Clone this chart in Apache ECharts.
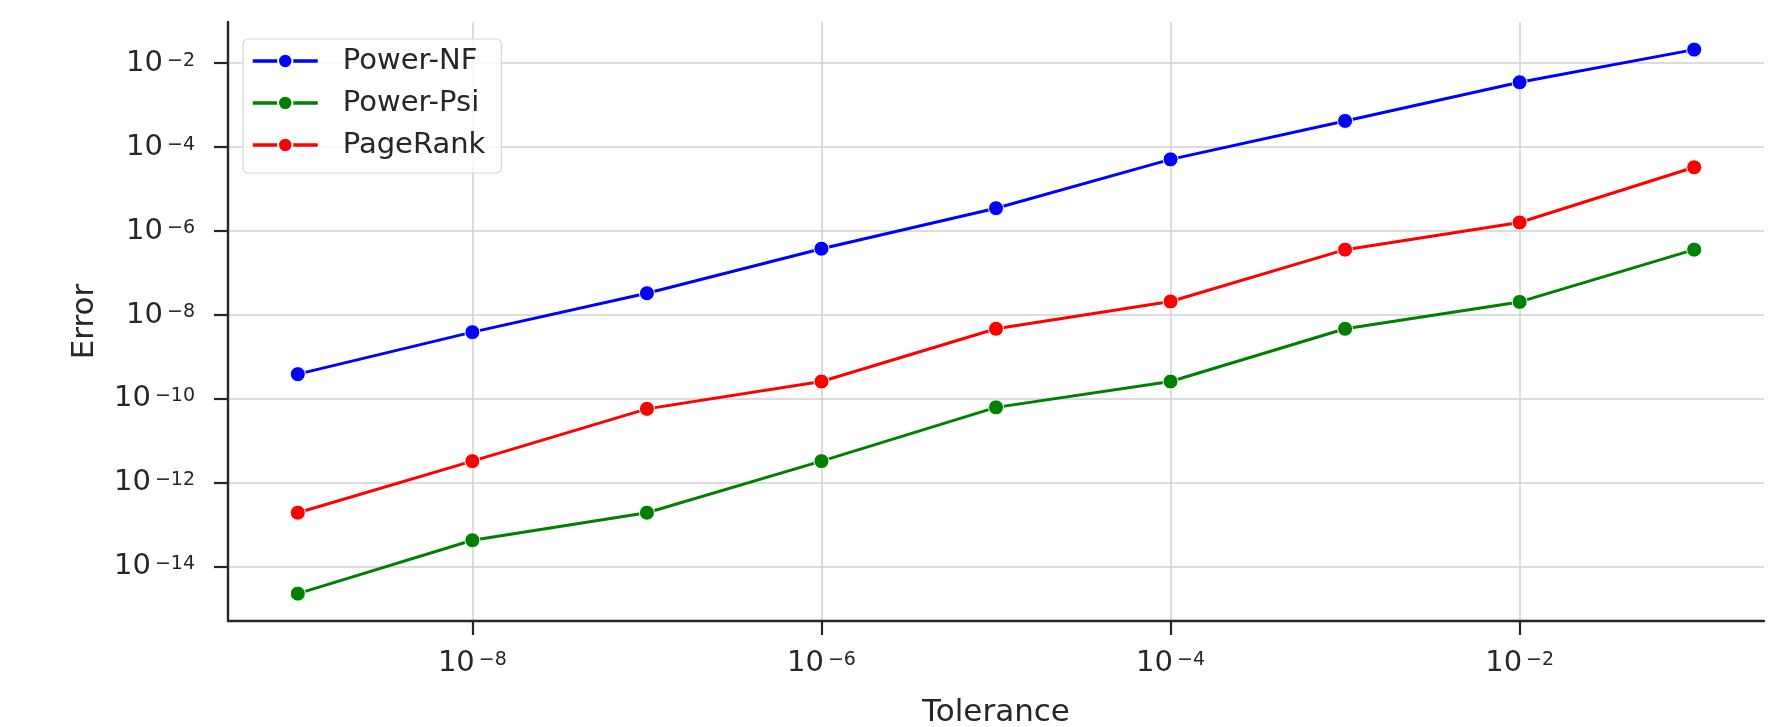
<!DOCTYPE html>
<html><head><meta charset="utf-8">
<script src="https://cdn.jsdelivr.net/npm/echarts@6/dist/echarts.min.js"></script>
<style>html,body{margin:0;padding:0;background:#fff}#c{width:1787px;height:727px}</style>
</head><body><div id="c"></div>
<script>
const tolerance = [1e-9, 1e-8, 1e-7, 1e-6, 1e-5, 1e-4, 1e-3, 1e-2, 1e-1];
const powerNF  = [3.9e-10, 3.9e-9, 3.3e-8, 3.8e-7, 3.5e-6, 5.1e-5, 4.2e-4, 3.5e-3, 2.1e-2];
const powerPsi = [2.3e-15, 4.3e-14, 1.95e-13, 3.3e-12, 6.3e-11, 2.6e-10, 4.7e-9, 2.05e-8, 3.6e-7];
const pageRank = [1.95e-13, 3.3e-12, 5.8e-11, 2.6e-10, 4.7e-9, 2.1e-8, 3.6e-7, 1.6e-6, 3.3e-5];
const seriesNames = ['Power-NF', 'Power-Psi', 'PageRank'];
const seriesColors = ['#0000ff', '#008000', '#ff0000'];
const xTickExponents = [-8, -6, -4, -2];
const yTickExponents = [-14, -12, -10, -8, -6, -4, -2];

const FONT = 'DejaVu Sans';
const TXT = '#262626';
const toPts = vals => vals.map((v, i) => [Math.log10(tolerance[i]), Math.log10(v)]);
const isTick = (arr, v) => arr.some(t => Math.abs(t - v) < 1e-6);
const powLabel = arr => v => isTick(arr, v) ? '{b|10}{s|\u2212' + Math.abs(Math.round(v)) + '}' : '';
const rich = {
  b: { fontSize: 29, fontFamily: FONT, color: TXT, lineHeight: 32 },
  s: { fontSize: 19, fontFamily: FONT, color: TXT, verticalAlign: 'top', padding: [4, 0, 0, 4], lineHeight: 14 }
};
const axisCommon = {
  type: 'value',
  axisLine: { show: true, onZero: false, lineStyle: { color: TXT, width: 2.4 } },
  splitLine: { show: true, lineStyle: { color: '#d0d0d0', width: 1.5 } },
  nameTextStyle: { fontSize: 31, fontFamily: FONT, color: TXT },
  nameLocation: 'middle'
};

const chart = echarts.init(document.getElementById('c'), null, { renderer: 'canvas' });
chart.setOption({
  animation: false,
  backgroundColor: '#fff',
  grid: { left: 228, right: 23, top: 22, bottom: 106, containLabel: false, outerBoundsMode: 'none' },
  legend: {
    left: 243, top: 39, orient: 'vertical',
    data: seriesNames,
    itemWidth: 65, itemHeight: 18, itemGap: 12,
    padding: [7, 16, 13, 8],
    backgroundColor: 'rgba(255,255,255,0.8)',
    borderColor: '#d6d6d6', borderWidth: 1.2, borderRadius: 5,
    lineStyle: { width: 3.5 },
    textStyle: { fontSize: 29, fontFamily: FONT, color: TXT, lineHeight: 30, padding: [0, 0, 0, 20] }
  },
  xAxis: Object.assign({}, axisCommon, {
    min: -9.4, max: -0.6, splitNumber: 5,
    name: 'Tolerance', nameGap: 76,
    axisTick: { show: true, customValues: xTickExponents, length: 14, lineStyle: { color: TXT, width: 2.2 } },
    axisLabel: { margin: 26, formatter: powLabel(xTickExponents), rich: rich }
  }),
  yAxis: Object.assign({}, axisCommon, {
    min: -15.29, max: -1.02, splitNumber: 7,
    name: 'Error', nameGap: 128,
    axisTick: { show: true, customValues: yTickExponents, length: 14, lineStyle: { color: TXT, width: 2.2 } },
    axisLabel: { margin: 33, formatter: powLabel(yTickExponents), rich: rich }
  }),
  series: [powerNF, powerPsi, pageRank].map((vals, k) => ({
    name: seriesNames[k], type: 'line', data: toPts(vals),
    symbol: 'circle', symbolSize: 15, showSymbol: true,
    color: seriesColors[k],
    lineStyle: { color: seriesColors[k], width: 3 },
    itemStyle: { color: seriesColors[k], borderColor: '#fff', borderWidth: 1 },
    z: 3 + k
  }))
});
</script></body></html>
